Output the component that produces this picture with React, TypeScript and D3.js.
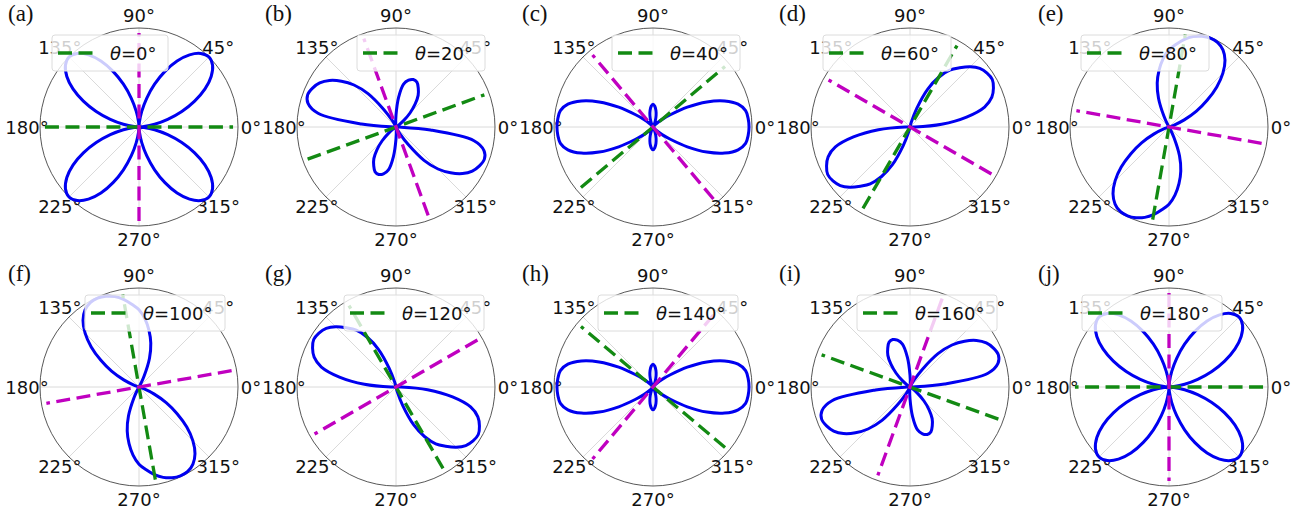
import * as React from "react";
import * as d3 from "d3";

// polarizer angle of each panel and its tag
const thetas = [0, 20, 40, 60, 80, 100, 120, 140, 160, 180];
const tags = ["(a)", "(b)", "(c)", "(d)", "(e)", "(f)", "(g)", "(h)", "(i)", "(j)"];

// sampling angles of the measured curves (deg)
const phi = d3.range(0, 360, 5);

// normalised intensity read at every 5 deg, 0..355
const rA = [
  0, 0.05, 0.16, 0.3, 0.46, 0.62, 0.77, 0.89, 0.97, 1.0, 0.97, 0.89, 0.77, 0.62, 0.46, 0.3, 0.16, 0.05,
  0, 0.05, 0.16, 0.3, 0.46, 0.62, 0.77, 0.89, 0.97, 1.0, 0.97, 0.89, 0.77, 0.62, 0.46, 0.3, 0.16, 0.05,
  0, 0.05, 0.16, 0.3, 0.46, 0.62, 0.77, 0.89, 0.97, 1.0, 0.97, 0.89, 0.77, 0.62, 0.46, 0.3, 0.16, 0.05,
  0, 0.05, 0.16, 0.3, 0.46, 0.62, 0.77, 0.89, 0.97, 1.0, 0.97, 0.89, 0.77, 0.62, 0.46, 0.3, 0.16, 0.05,
];
const rB = [
  0.03, 0.01, 0, 0, 0, 0, 0.01, 0.03, 0.1, 0.2, 0.3, 0.39, 0.45, 0.5, 0.51, 0.49, 0.44, 0.3,
  0.12, 0.03, 0, 0, 0, 0.02, 0.08, 0.22, 0.44, 0.6, 0.72, 0.82, 0.89, 0.93, 0.95, 0.92, 0.8, 0.35,
  0.03, 0.01, 0, 0, 0, 0, 0.01, 0.03, 0.1, 0.2, 0.3, 0.39, 0.45, 0.5, 0.51, 0.49, 0.44, 0.3,
  0.12, 0.03, 0, 0, 0, 0.02, 0.08, 0.22, 0.44, 0.6, 0.72, 0.82, 0.89, 0.93, 0.95, 0.92, 0.8, 0.35,
];
const rC = [
  0.97, 0.965, 0.95, 0.89, 0.77, 0.6, 0.4, 0.22, 0.12, 0.05, 0.015, 0, 0.01, 0.03, 0.07, 0.12, 0.17, 0.21,
  0.23, 0.21, 0.17, 0.12, 0.07, 0.03, 0.01, 0, 0.015, 0.05, 0.12, 0.22, 0.4, 0.6, 0.77, 0.89, 0.95, 0.965,
  0.97, 0.965, 0.95, 0.89, 0.77, 0.6, 0.4, 0.22, 0.12, 0.05, 0.015, 0, 0.01, 0.03, 0.07, 0.12, 0.17, 0.21,
  0.23, 0.21, 0.17, 0.12, 0.07, 0.03, 0.01, 0, 0.015, 0.05, 0.12, 0.22, 0.4, 0.6, 0.77, 0.89, 0.95, 0.965,
];
const rD = [
  0.05, 0.32, 0.58, 0.78, 0.88, 0.93, 0.96, 0.95, 0.92, 0.86, 0.78, 0.7, 0.58, 0.42, 0.2, 0.05, 0.01, 0,
  0, 0, 0, 0, 0, 0, 0, 0, 0, 0, 0, 0, 0, 0, 0, 0, 0, 0,
  0.05, 0.32, 0.58, 0.78, 0.88, 0.93, 0.96, 0.95, 0.92, 0.86, 0.78, 0.7, 0.58, 0.42, 0.2, 0.05, 0.01, 0,
  0, 0, 0, 0, 0, 0, 0, 0, 0, 0, 0, 0, 0, 0, 0, 0, 0, 0,
];
const rE = [
  0, 0, 0, 0, 0.05, 0.17, 0.32, 0.47, 0.63, 0.77, 0.88, 0.95, 0.985, 0.99, 0.975, 0.945, 0.9, 0.84,
  0.78, 0.69, 0.58, 0.46, 0.31, 0.12, 0.02, 0, 0, 0, 0, 0, 0, 0, 0, 0, 0, 0,
  0, 0, 0, 0, 0.05, 0.17, 0.32, 0.47, 0.63, 0.77, 0.88, 0.95, 0.985, 0.99, 0.975, 0.945, 0.9, 0.84,
  0.78, 0.69, 0.58, 0.46, 0.31, 0.12, 0.02, 0, 0, 0, 0, 0, 0, 0, 0, 0, 0, 0,
];
const rF = [
  0, 0, 0, 0, 0, 0, 0, 0, 0, 0, 0, 0, 0.02, 0.12, 0.31, 0.46, 0.58, 0.69,
  0.78, 0.84, 0.9, 0.945, 0.975, 0.99, 0.985, 0.95, 0.88, 0.77, 0.63, 0.47, 0.32, 0.17, 0.05, 0, 0, 0,
  0, 0, 0, 0, 0, 0, 0, 0, 0, 0, 0, 0, 0.02, 0.12, 0.31, 0.46, 0.58, 0.69,
  0.78, 0.84, 0.9, 0.945, 0.975, 0.99, 0.985, 0.95, 0.88, 0.77, 0.63, 0.47, 0.32, 0.17, 0.05, 0, 0, 0,
];
const rG = [
  0.05, 0, 0, 0, 0, 0, 0, 0, 0, 0, 0, 0, 0, 0, 0, 0, 0, 0,
  0, 0, 0.01, 0.05, 0.2, 0.42, 0.58, 0.7, 0.78, 0.86, 0.92, 0.95, 0.96, 0.93, 0.88, 0.78, 0.58, 0.32,
  0.05, 0, 0, 0, 0, 0, 0, 0, 0, 0, 0, 0, 0, 0, 0, 0, 0, 0,
  0, 0, 0.01, 0.05, 0.2, 0.42, 0.58, 0.7, 0.78, 0.86, 0.92, 0.95, 0.96, 0.93, 0.88, 0.78, 0.58, 0.32,
];
const rH = [
  0.97, 0.965, 0.95, 0.89, 0.77, 0.6, 0.4, 0.22, 0.12, 0.05, 0.015, 0, 0.01, 0.03, 0.07, 0.12, 0.17, 0.21,
  0.23, 0.21, 0.17, 0.12, 0.07, 0.03, 0.01, 0, 0.015, 0.05, 0.12, 0.22, 0.4, 0.6, 0.77, 0.89, 0.95, 0.965,
  0.97, 0.965, 0.95, 0.89, 0.77, 0.6, 0.4, 0.22, 0.12, 0.05, 0.015, 0, 0.01, 0.03, 0.07, 0.12, 0.17, 0.21,
  0.23, 0.21, 0.17, 0.12, 0.07, 0.03, 0.01, 0, 0.015, 0.05, 0.12, 0.22, 0.4, 0.6, 0.77, 0.89, 0.95, 0.965,
];
const rI = [
  0.03, 0.35, 0.8, 0.92, 0.95, 0.93, 0.89, 0.82, 0.72, 0.6, 0.44, 0.22, 0.08, 0.02, 0, 0, 0, 0.03,
  0.12, 0.3, 0.44, 0.49, 0.51, 0.5, 0.45, 0.39, 0.3, 0.2, 0.1, 0.03, 0.01, 0, 0, 0, 0, 0.01,
  0.03, 0.35, 0.8, 0.92, 0.95, 0.93, 0.89, 0.82, 0.72, 0.6, 0.44, 0.22, 0.08, 0.02, 0, 0, 0, 0.03,
  0.12, 0.3, 0.44, 0.49, 0.51, 0.5, 0.45, 0.39, 0.3, 0.2, 0.1, 0.03, 0.01, 0, 0, 0, 0, 0.01,
];
const rJ = rA.slice();

const curves = [rA, rB, rC, rD, rE, rF, rG, rH, rI, rJ];

const thetaTicks = [0, 45, 90, 135, 180, 225, 270, 315];

// layout
const W = 1306;
const H = 516;
const R = 99;
const colX = [139, 396, 653, 910, 1169];
const rowY = [127, 387];
const legendLeft = [-87, -39, -41, -87, -88, -54, -52, -55, -53, -87];

const font = "'DejaVu Sans', sans-serif";
const green = "#138a13";
const magenta = "#c000c0";
const dash = "14 6.5";

const Panel = ({ idx }: { idx: number }) => {
  const cx = colX[idx % 5];
  const cy = rowY[Math.floor(idx / 5)];
  const rs = d3.scaleLinear().domain([0, 1]).range([0, R]);
  const toRad = (d: number) => (d * Math.PI) / 180;

  const line = d3
    .lineRadial<number>()
    .angle((_, i) => Math.PI / 2 - toRad(phi[i]))
    .radius((d) => rs(d))
    .curve(d3.curveCatmullRomClosed.alpha(0.5));

  const th = thetas[idx];
  const dashLine = (deg: number, color: string) => {
    const a = toRad(deg);
    const L = rs(0.95);
    return (
      <line
        x1={-L * Math.cos(a)}
        y1={L * Math.sin(a)}
        x2={L * Math.cos(a)}
        y2={-L * Math.sin(a)}
        stroke={color}
        strokeWidth={3.3}
        strokeDasharray={dash}
      />
    );
  };

  const digits = String(th).length;
  const lw = 104 + 12 * digits;
  const lx = legendLeft[idx];
  const ly = -92;

  return (
    <g transform={`translate(${cx},${cy})`}>
      {thetaTicks.map((t) => (
        <line
          key={"g" + t}
          x1={0}
          y1={0}
          x2={rs(1) * Math.cos(toRad(t))}
          y2={-rs(1) * Math.sin(toRad(t))}
          stroke="#d0d0d0"
          strokeWidth={0.8}
        />
      ))}
      <circle r={rs(1)} fill="none" stroke="#444" strokeWidth={0.9} />
      {thetaTicks.map((t) => (
        <text
          key={"t" + t}
          x={(R + 13) * Math.cos(toRad(t))}
          y={-(R + 13) * Math.sin(toRad(t))}
          textAnchor="middle"
          dominantBaseline="central"
          fontFamily={font}
          fontSize={18}
          fill="#111"
        >
          {t}°
        </text>
      ))}
      <path d={line(curves[idx]) || ""} fill="none" stroke="#0000f0" strokeWidth={3} />
      {dashLine(th, green)}
      {dashLine(th + 90, magenta)}
      <g>
        <rect
          x={lx}
          y={ly}
          width={lw}
          height={36}
          rx={3}
          fill="#fff"
          fillOpacity={0.8}
          stroke="#dcdcdc"
          strokeWidth={1}
        />
        <line
          x1={lx + 6}
          x2={lx + 41}
          y1={ly + 18}
          y2={ly + 18}
          stroke={green}
          strokeWidth={3.3}
          strokeDasharray={dash}
        />
        <text x={lx + 58} y={ly + 18} dominantBaseline="central" fontFamily={font} fontSize={18} fill="#111">
          <tspan fontStyle="italic">θ</tspan>={th}°
        </text>
      </g>
      <text
        x={-131}
        y={-106}
        fontFamily="'Liberation Serif', 'Times New Roman', serif"
        fontSize={23}
        fill="#111"
      >
        {tags[idx]}
      </text>
    </g>
  );
};

export default function App() {
  return (
    <svg
      width={W}
      height={H}
      viewBox={`0 0 ${W} ${H}`}
      style={{ position: "absolute", left: 0, top: 0, background: "#fff" }}
    >
      {thetas.map((_, i) => (
        <Panel key={i} idx={i} />
      ))}
    </svg>
  );
}
